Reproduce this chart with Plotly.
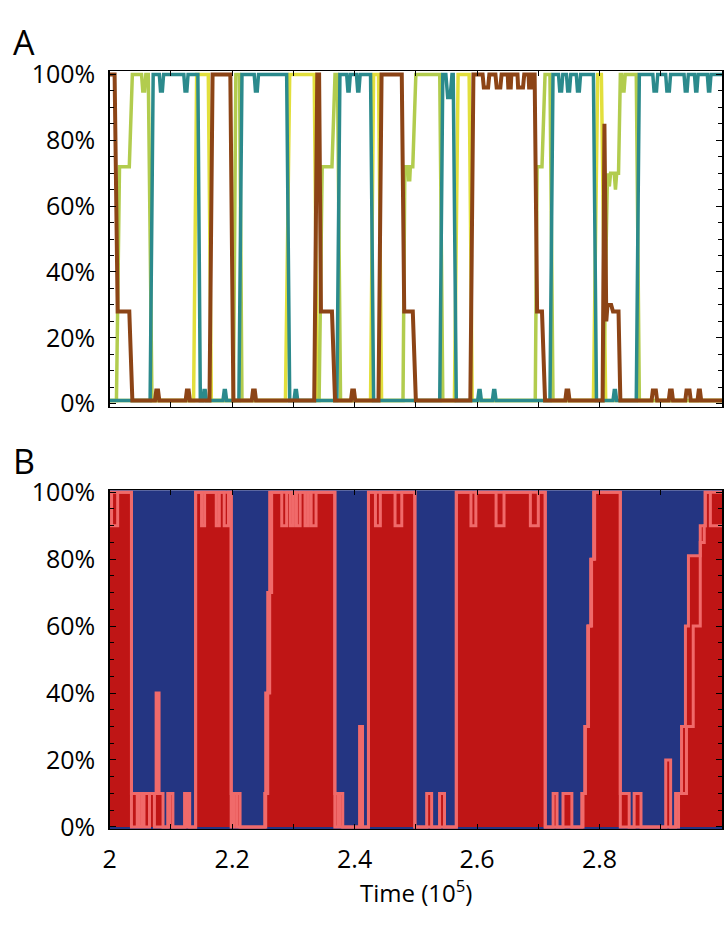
import plotly.graph_objects as go

# ---------------- Panel A: strain shares (%) vs time (10^5) ----------------
brown_t = [2.000, 2.008, 2.013, 2.032, 2.037, 2.074, 2.076, 2.079, 2.081, 2.124, 2.126, 2.129, 2.131,
           2.163, 2.168, 2.197, 2.202, 2.232, 2.234, 2.237, 2.239, 2.334, 2.339, 2.342, 2.345, 2.363, 2.368,
           2.394, 2.396, 2.399, 2.401, 2.439, 2.444, 2.477, 2.481, 2.495, 2.500, 2.589, 2.594,
           2.609, 2.611, 2.618, 2.620, 2.630, 2.632, 2.638, 2.640, 2.650, 2.651, 2.655, 2.656,
           2.666, 2.667, 2.675, 2.677, 2.684, 2.685, 2.689, 2.690, 2.694, 2.698, 2.706, 2.711,
           2.744, 2.746, 2.749, 2.751, 2.805, 2.808, 2.811, 2.813, 2.819, 2.822, 2.831, 2.834,
           2.885, 2.887, 2.892, 2.894, 2.913, 2.915, 2.918, 2.920, 2.940, 2.942, 2.947, 2.949,
           2.960, 2.962, 2.964, 2.966, 3.000]
brown_v = [100, 100, 28, 28, 1, 1, 4, 4, 1, 1, 4, 4, 1,
           1, 100, 100, 1, 1, 4, 4, 1, 1, 100, 100, 28, 28, 1,
           1, 4, 4, 1, 1, 100, 100, 28, 28, 1, 1, 100,
           100, 96, 96, 100, 100, 96, 96, 100, 100, 96, 96, 100,
           100, 96, 96, 100, 100, 96, 96, 100, 100, 28, 28, 1,
           1, 4, 4, 1, 1, 85, 25, 30, 30, 28, 28, 1,
           1, 4, 4, 1, 1, 4, 4, 1, 1, 4, 4, 1,
           1, 4, 4, 1, 1]

teal_t = [2.000, 2.066, 2.071, 2.081, 2.083, 2.086, 2.088, 2.121, 2.123, 2.126, 2.128, 2.144, 2.148,
          2.152, 2.154, 2.156, 2.158, 2.185, 2.187, 2.189, 2.191, 2.211, 2.216,
          2.236, 2.238, 2.241, 2.243, 2.289, 2.294, 2.301, 2.303, 2.305, 2.307, 2.371, 2.376,
          2.387, 2.389, 2.391, 2.393, 2.403, 2.405, 2.407, 2.409, 2.426, 2.431, 2.539, 2.544,
          2.549, 2.552, 2.556, 2.559, 2.561, 2.566, 2.601, 2.603, 2.605, 2.607, 2.625, 2.627, 2.629, 2.631,
          2.719, 2.724, 2.733, 2.735, 2.738, 2.740, 2.746, 2.748, 2.751, 2.753, 2.762, 2.764, 2.767, 2.769,
          2.790, 2.795, 2.822, 2.824, 2.826, 2.828, 2.860, 2.865,
          2.887, 2.889, 2.893, 2.895, 2.908, 2.910, 2.914, 2.916, 2.938, 2.940, 2.943, 2.945,
          2.955, 2.957, 2.959, 2.961, 2.976, 2.978, 2.980, 2.982, 3.000]
teal_v = [1, 1, 100, 100, 95, 95, 100, 100, 95, 95, 100, 100, 1,
          1, 4, 4, 1, 1, 4, 4, 1, 1, 100,
          100, 95, 95, 100, 100, 1, 1, 4, 4, 1, 1, 100,
          100, 95, 95, 100, 100, 95, 95, 100, 100, 1, 1, 100,
          100, 93, 93, 100, 100, 1, 1, 4, 4, 1, 1, 4, 4, 1,
          1, 100, 100, 95, 95, 100, 100, 95, 95, 100, 100, 95, 95, 100,
          100, 1, 1, 4, 4, 1, 1, 100,
          100, 95, 95, 100, 100, 95, 95, 100, 100, 95, 95, 100,
          100, 95, 95, 100, 100, 95, 95, 100, 100]

green_t = [2.000, 2.011, 2.016, 2.032, 2.037, 2.052, 2.054, 2.057, 2.059, 2.063, 2.069,
           2.202, 2.206, 2.212, 2.216, 2.342, 2.347, 2.363, 2.368, 2.372, 2.377,
           2.479, 2.482, 2.487, 2.488, 2.490, 2.491, 2.495, 2.500, 2.539, 2.544,
           2.695, 2.698, 2.706, 2.711, 2.719, 2.724,
           2.806, 2.813, 2.816, 2.818, 2.824, 2.826, 2.828, 2.831, 2.834,
           2.836, 2.838, 2.840, 2.842, 2.860, 2.865, 3.000]
green_v = [1, 1, 72, 72, 100, 100, 95, 95, 100, 100, 1,
           1, 100, 100, 1, 1, 72, 72, 100, 100, 1,
           1, 72, 72, 68, 68, 72, 72, 100, 100, 1,
           1, 72, 72, 100, 100, 1,
           1, 70, 66, 70, 70, 65, 70, 70, 100,
           100, 95, 95, 100, 100, 1, 1]

yellow_t = [2.000, 2.137, 2.142, 2.161, 2.166, 2.287, 2.294, 2.334, 2.339,
            2.426, 2.431, 2.439, 2.444, 2.563, 2.569, 2.587, 2.592,
            2.790, 2.797, 2.803, 2.810, 3.000]
yellow_v = [1, 1, 100, 100, 1, 1, 100, 100, 1,
            1, 100, 100, 1, 1, 100, 100, 1,
            1, 100, 100, 1, 1]

# ---------------- Panel B: red share (%) steps ----------------
red_total_t = [2.0000, 2.0355, 2.0758, 2.0806, 2.0871, 2.0952, 2.1032, 2.1226, 2.1306, 2.1403,
               2.1984, 2.2129, 2.2532, 2.2548, 2.2581, 2.2613, 2.3677, 2.3806, 2.4081, 2.4129,
               2.4226, 2.4984, 2.5177, 2.5258, 2.5387, 2.5468, 2.5661, 2.7113, 2.7242, 2.7306,
               2.7403, 2.7548, 2.7710, 2.7758, 2.7806, 2.7855, 2.7903, 2.8339, 2.8484, 2.8565,
               2.8677, 2.9081, 2.9161, 2.9242, 2.9339, 2.9403, 2.9452, 2.9645, 2.9726]
red_total_v = [100, 10, 40, 10, 0, 10, 0, 10, 0, 100,
               10, 0, 10, 40, 70, 100, 10, 0, 30, 0,
               100, 0, 10, 0, 10, 0, 100, 0, 10, 0,
               10, 0, 10, 30, 60, 80, 100, 10, 0, 10,
               0, 20, 0, 10, 30, 60, 81, 90, 100]

red_inner_t = [2.000, 2.003, 2.013, 2.0355, 2.045, 2.048, 2.053, 2.056, 2.065, 2.073, 2.095, 2.098,
               2.1226, 2.127, 2.1403, 2.150, 2.155, 2.174, 2.179, 2.187, 2.194, 2.1984, 2.203, 2.208,
               2.2548, 2.2581, 2.2613, 2.2645, 2.281, 2.289, 2.295, 2.300, 2.305, 2.311, 2.319, 2.324,
               2.329, 2.337, 2.3677, 2.373, 2.376, 2.4226, 2.434, 2.442, 2.466, 2.477, 2.4984,
               2.5661, 2.590, 2.598, 2.631, 2.644, 2.687, 2.700, 2.7113, 2.773, 2.777, 2.782, 2.787,
               2.792, 2.8339, 2.929, 2.942, 2.953, 2.9645, 2.971, 2.981]
red_inner_v = [100, 90, 100, 0, 10, 0, 10, 0, 10, 0, 10, 0,
               10, 0, 100, 90, 100, 90, 100, 90, 100, 0, 10, 0,
               10, 40, 70, 100, 90, 100, 90, 100, 90, 100, 90, 100,
               90, 100, 0, 10, 0, 100, 90, 100, 90, 100, 0,
               100, 90, 100, 90, 100, 90, 100, 0, 10, 30, 60, 80,
               100, 0, 10, 30, 60, 85, 100, 90]

TEAL = "#2b8a8c"
GREEN = "#b2cc4e"
YELLOW = "#e2df3c"
BROWN = "#8c4416"
RED = "#bf1515"
PINK = "#f06a6a"
BLUE = "#243582"


def step_at(ts, vs, t):
    val = vs[0]
    for ti, vi in zip(ts, vs):
        if ti <= t + 1e-12:
            val = vi
        else:
            break
    return val


grid = sorted(set(red_total_t) | set(red_inner_t) | {3.0})
r_vals = [step_at(red_total_t, red_total_v, t) for t in grid]
q_vals = [min(step_at(red_inner_t, red_inner_v, t), r) for t, r in zip(grid, r_vals)]

fig = go.Figure()

for t, v, c, w in [(yellow_t, yellow_v, YELLOW, 3.5), (green_t, green_v, GREEN, 3.5),
                   (teal_t, teal_v, TEAL, 3.5), (brown_t, brown_v, BROWN, 4)]:
    fig.add_trace(go.Scatter(x=t, y=v, mode="lines", line=dict(color=c, width=w),
                             xaxis="x", yaxis="y", showlegend=False, hoverinfo="skip"))

fig.add_trace(go.Scatter(x=grid, y=r_vals, mode="lines", line=dict(color=PINK, width=3, shape="hv"),
                         fill="tozeroy", fillcolor=RED, xaxis="x2", yaxis="y2",
                         showlegend=False, hoverinfo="skip"))
fig.add_trace(go.Scatter(x=grid, y=q_vals, mode="lines", line=dict(color=PINK, width=3, shape="hv"),
                         xaxis="x2", yaxis="y2", showlegend=False, hoverinfo="skip"))

W = 724.0
H = 930.0


def px_y(y):
    return 1 - y / H


def px_x(x):
    return x / W


xdom = [px_x(104), 1.0]
ydomA = [px_y(404), px_y(57)]
ydomB = [px_y(840), px_y(490)]

FONT = "Open Sans"

common_x = dict(range=[2, 3], showline=True, linecolor="black", linewidth=1.5, mirror="allticks",
                ticks="inside", ticklen=5, tickcolor="black", showgrid=False, zeroline=False,
                domain=xdom)
common_y = dict(showline=True, linecolor="black", linewidth=1.5, mirror="allticks",
                ticks="inside", ticklen=6, tickcolor="black", showgrid=False, zeroline=False,
                tick0=0, dtick=20, ticksuffix="%", ticklabelstandoff=8,
                minor=dict(ticks="inside", dtick=5, ticklen=4, tickcolor="black"),
                tickfont=dict(family=FONT, size=25, color="black"))

fig.update_layout(
    width=int(W), height=int(H),
    margin=dict(l=0, r=0, t=0, b=0),
    paper_bgcolor="white", plot_bgcolor="white",
    xaxis=dict(common_x, anchor="y", showticklabels=False, dtick=0.1, tick0=2),
    yaxis=dict(common_y, anchor="x", domain=ydomA, range=[-1, 101]),
    xaxis2=dict(common_x, anchor="y2", dtick=0.2, tick0=2,
                minor=dict(ticks="inside", dtick=0.1, ticklen=5, tickcolor="black"),
                ticklabelstandoff=8,
                tickfont=dict(family=FONT, size=25, color="black")),
    yaxis2=dict(common_y, anchor="x2", domain=ydomB, range=[-0.6, 100.6]),
    shapes=[dict(type="rect", xref="x2 domain", yref="y2 domain", x0=0, x1=1, y0=0, y1=1,
                 fillcolor=BLUE, line=dict(width=0), layer="below")],
    annotations=[
        dict(text="A", x=px_x(4), y=px_y(27), xref="paper", yref="paper", xanchor="left",
             yanchor="middle", showarrow=False, font=dict(family=FONT, size=34, color="black")),
        dict(text="B", x=px_x(4), y=px_y(460), xref="paper", yref="paper", xanchor="left",
             yanchor="middle", showarrow=False, font=dict(family=FONT, size=34, color="black")),
        dict(text="Time (10<sup>5</sup>)", x=px_x(414), y=px_y(905), xref="paper",
             yref="paper", xanchor="center", yanchor="middle", showarrow=False,
             font=dict(family=FONT, size=24, color="black")),
    ],
)

PAGE_JS = (
    "var gd = document.getElementById('{plot_id}');"
    "document.documentElement.style.margin = '0';"
    "document.body.style.margin = '0';"
    "document.body.style.padding = '0';"
    "document.body.style.overflow = 'hidden';"
    "gd.style.position = 'fixed';"
    "gd.style.left = '0px';"
    "gd.style.top = '0px';"
)

fig.write_html("out.html", post_script=PAGE_JS, config={"staticPlot": True, "displayModeBar": False})
